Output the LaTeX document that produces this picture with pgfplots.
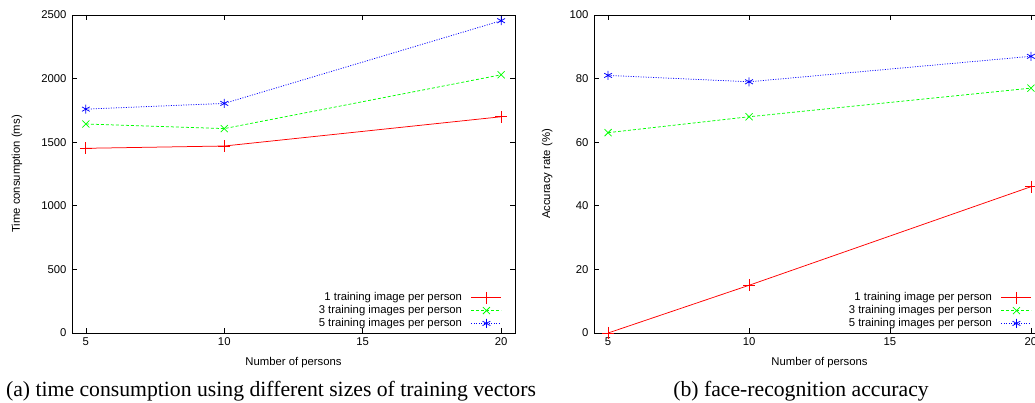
\documentclass[border=0pt]{standalone}
\usepackage{pgfplots}
\pgfplotsset{compat=1.18}
\usepackage{fontspec}
\setmainfont{Liberation Sans}
\newfontfamily\capfont{Liberation Serif}
\definecolor{gred}{rgb}{1,0,0}
\definecolor{ggreen}{rgb}{0,1,0}
\definecolor{gblue}{rgb}{0,0,1}
\pgfplotsset{
  gp/.style={
    scale only axis,
    anchor=south west,
    height=318pt,
    xmin=4.5, xmax=20.5,
    xtick={5,10,15,20},
    tick align=inside,
    major tick length=5pt,
    axis line style={line width=0.8pt},
    every tick/.style={black, line width=0.6pt},
    font=\fontsize{11.3}{13}\selectfont,
    /pgf/number format/assume math mode=true,
    /pgf/number format/1000 sep={},
    xticklabel style={yshift=-1pt},
    yticklabel style={xshift=-2pt},
    xlabel={Number of persons},
    every axis x label/.style={at={(axis description cs:0.5,0)}, yshift=-30pt, anchor=center},
    legend cell align=right,
    legend plot pos=right,
    legend style={draw=none, fill=none, at={(1,0)}, anchor=south east,
      xshift=-13pt, yshift=3pt, inner sep=0pt, row sep=0pt,
      nodes={inner sep=1pt, text height=8.3pt, text depth=2.5pt},
      font=\fontsize{11.3}{13}\selectfont},
    legend image code/.code={\path (0pt,0pt); \draw[mark repeat=2,mark phase=2,##1] plot coordinates {(8pt,0pt) (23pt,0pt) (38pt,0pt)};},
  },
  s1/.style={color=gred, line width=0.75pt, mark=+, mark size=6pt, mark options={solid, line width=0.75pt}},
  s3/.style={color=ggreen, line width=0.75pt, dash pattern=on 3pt off 2pt, mark=x, mark size=5pt, mark options={solid, line width=0.75pt}},
  s5/.style={color=gblue, line width=0.75pt, dash pattern=on 1pt off 1.5pt, mark=asterisk, mark size=4.5pt, mark options={solid, line width=0.75pt}},
}
\begin{document}
\begin{tikzpicture}
\begin{axis}[gp, at={(72pt,70pt)}, width=443pt,
  ymin=0, ymax=2500, ytick={0,500,1000,1500,2000,2500},
  ylabel={Time consumption (ms)},
  every axis y label/.style={at={(axis description cs:-0.124,0.5)}, rotate=90, anchor=center}]
\addplot[s1] coordinates {(5,1452) (10,1470) (20,1700)};
\addlegendentry{1 training image per person}
\addplot[s3] coordinates {(5,1643) (10,1607) (20,2030)};
\addlegendentry{3 training images per person}
\addplot[s5] coordinates {(5,1760) (10,1805) (20,2455)};
\addlegendentry{5 training images per person}
\end{axis}
\begin{axis}[gp, at={(594pt,70pt)}, width=451pt,
  ymin=0, ymax=100, ytick={0,20,40,60,80,100},
  ylabel={Accuracy rate (\%)},
  every axis y label/.style={at={(axis description cs:-0.104,0.5)}, rotate=90, anchor=center}]
\addplot[s1] coordinates {(5,0) (10,15) (20,46)};
\addlegendentry{1 training image per person}
\addplot[s3] coordinates {(5,63) (10,68) (20,77)};
\addlegendentry{3 training images per person}
\addplot[s5] coordinates {(5,81) (10,79) (20,87)};
\addlegendentry{5 training images per person}
\end{axis}
\node[anchor=base, font=\capfont\fontsize{21.7}{24}\selectfont] at (271pt,6pt) {(a) time consumption using different sizes of training vectors};
\node[anchor=base, font=\capfont\fontsize{21.7}{24}\selectfont] at (801pt,6pt) {(b) face-recognition accuracy};
\pgfresetboundingbox
\useasboundingbox (0pt,0pt) rectangle (1035pt,403pt);
\end{tikzpicture}
\end{document}
